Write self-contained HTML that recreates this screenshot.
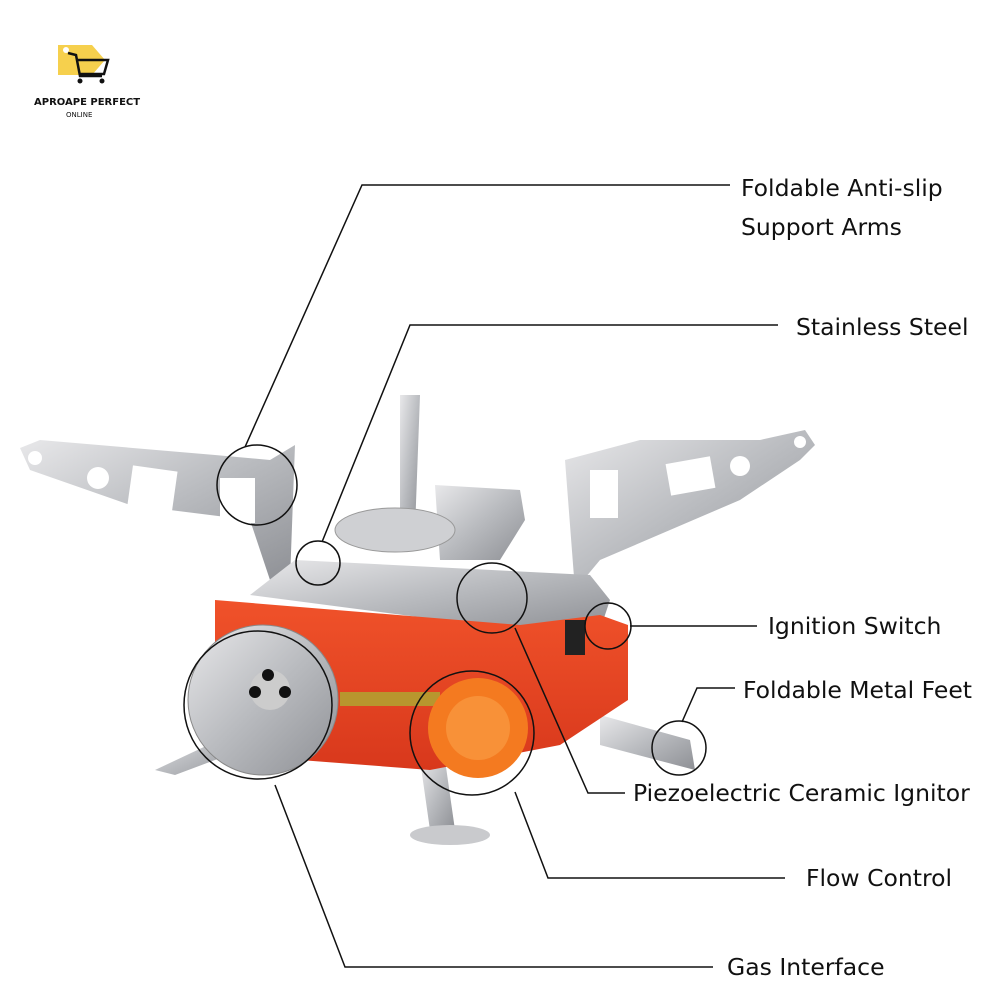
<!DOCTYPE html>
<html><head><meta charset="utf-8"><style>
html,body{margin:0;padding:0;background:#fff;}
svg{display:block}
text{font-family:"DejaVu Sans","Liberation Sans",sans-serif;fill:#111;}
</style></head><body>
<svg width="1000" height="1000" viewBox="0 0 1000 1000" xmlns="http://www.w3.org/2000/svg">
<defs>
<linearGradient id="steel" x1="0" y1="0" x2="1" y2="1">
<stop offset="0" stop-color="#e8e8ea"/><stop offset="0.5" stop-color="#b9bbbf"/><stop offset="1" stop-color="#8e9095"/>
</linearGradient>
<linearGradient id="org" x1="0" y1="0" x2="0" y2="1">
<stop offset="0" stop-color="#f0522a"/><stop offset="1" stop-color="#d8381c"/>
</linearGradient>
</defs>
<!-- logo -->
<polygon points="58,45 92,45 105,60 92,75 58,75" fill="#f6d04d"/>
<circle cx="66" cy="50" r="3" fill="#fff"/>
<path d="M68,53 L76,55 L80,76 L102,76 M77,60 L108,60 L104,74 L80,74" stroke="#111" stroke-width="2.5" fill="none"/>
<circle cx="80" cy="81" r="2.5" fill="#111"/><circle cx="102" cy="81" r="2.5" fill="#111"/>
<text x="34" y="105" font-size="10" font-weight="bold">APROAPE PERFECT</text>
<text x="66" y="117" font-size="7" font-family="Liberation Serif">ONLINE</text>

<!-- feet -->
<polygon points="155,770 240,730 255,745 175,775" fill="url(#steel)"/>
<polygon points="600,715 690,740 695,770 600,745" fill="url(#steel)"/>
<polygon points="420,760 445,760 455,830 430,830" fill="url(#steel)"/>
<ellipse cx="450" cy="835" rx="40" ry="10" fill="#c9cacd"/>
<!-- arms -->
<polygon points="20,448 40,440 215,455 270,460 295,445 290,580 270,580 250,520 130,505 30,470" fill="url(#steel)"/>
<circle cx="35" cy="458" r="7" fill="#fff"/>
<circle cx="98" cy="478" r="11" fill="#fff"/>
<rect x="130" y="468" width="45" height="40" fill="#fff" transform="rotate(8 150 488)"/>
<rect x="220" y="478" width="35" height="45" fill="#fff"/>
<polygon points="565,460 640,440 760,440 805,430 815,445 800,460 740,500 600,560 575,590" fill="url(#steel)"/>
<circle cx="800" cy="442" r="6" fill="#fff"/>
<circle cx="740" cy="466" r="10" fill="#fff"/>
<rect x="668" y="460" width="45" height="32" fill="#fff" transform="rotate(-10 690 476)"/>
<rect x="590" y="470" width="28" height="48" fill="#fff"/>
<polygon points="400,395 420,395 415,530 400,530" fill="url(#steel)"/>
<polygon points="435,485 520,490 525,520 500,560 440,560" fill="url(#steel)"/>
<!-- top plate -->
<polygon points="295,560 590,575 610,600 600,630 480,625 250,595" fill="url(#steel)"/>
<ellipse cx="395" cy="530" rx="60" ry="22" fill="#cfd0d3" stroke="#999"/>
<!-- body -->
<polygon points="215,600 520,625 600,615 628,625 628,700 560,745 430,770 300,760 215,720" fill="url(#org)"/>
<rect x="565" y="620" width="20" height="35" fill="#222"/>
<!-- pipe & knob -->
<rect x="340" y="692" width="100" height="14" fill="#b8962e"/>
<circle cx="478" cy="728" r="50" fill="#f47a20"/>
<circle cx="478" cy="728" r="32" fill="#f89138"/>
<!-- gas disc -->
<circle cx="263" cy="700" r="75" fill="url(#steel)" stroke="#888"/>
<circle cx="270" cy="690" r="20" fill="#ccc"/>
<circle cx="268" cy="675" r="6" fill="#111"/><circle cx="255" cy="692" r="6" fill="#111"/><circle cx="285" cy="692" r="6" fill="#111"/>

<!-- callouts -->
<g stroke="#111" stroke-width="1.5" fill="none">
<polyline points="730,185 362,185 245,447"/>
<circle cx="257" cy="485" r="40"/>
<polyline points="778,325 410,325 322,542"/>
<circle cx="318" cy="563" r="22"/>
<polyline points="757,626 630,626"/>
<circle cx="608" cy="626" r="23"/>
<polyline points="735,688 697,688 682,722"/>
<circle cx="679" cy="748" r="27"/>
<polyline points="625,793 588,793 515,628"/>
<circle cx="492" cy="598" r="35"/>
<polyline points="785,878 548,878 515,792"/>
<circle cx="472" cy="733" r="62"/>
<polyline points="713,967 345,967 275,785"/>
<circle cx="258" cy="705" r="74"/>
</g>
<g font-size="23.5">
<text x="741" y="196">Foldable Anti-slip</text>
<text x="741" y="235">Support Arms</text>
<text x="796" y="335">Stainless Steel</text>
<text x="768" y="634">Ignition Switch</text>
<text x="743" y="698">Foldable Metal Feet</text>
<text x="633" y="801">Piezoelectric Ceramic Ignitor</text>
<text x="806" y="886">Flow Control</text>
<text x="727" y="975">Gas Interface</text>
</g>
</svg>
</body></html>
